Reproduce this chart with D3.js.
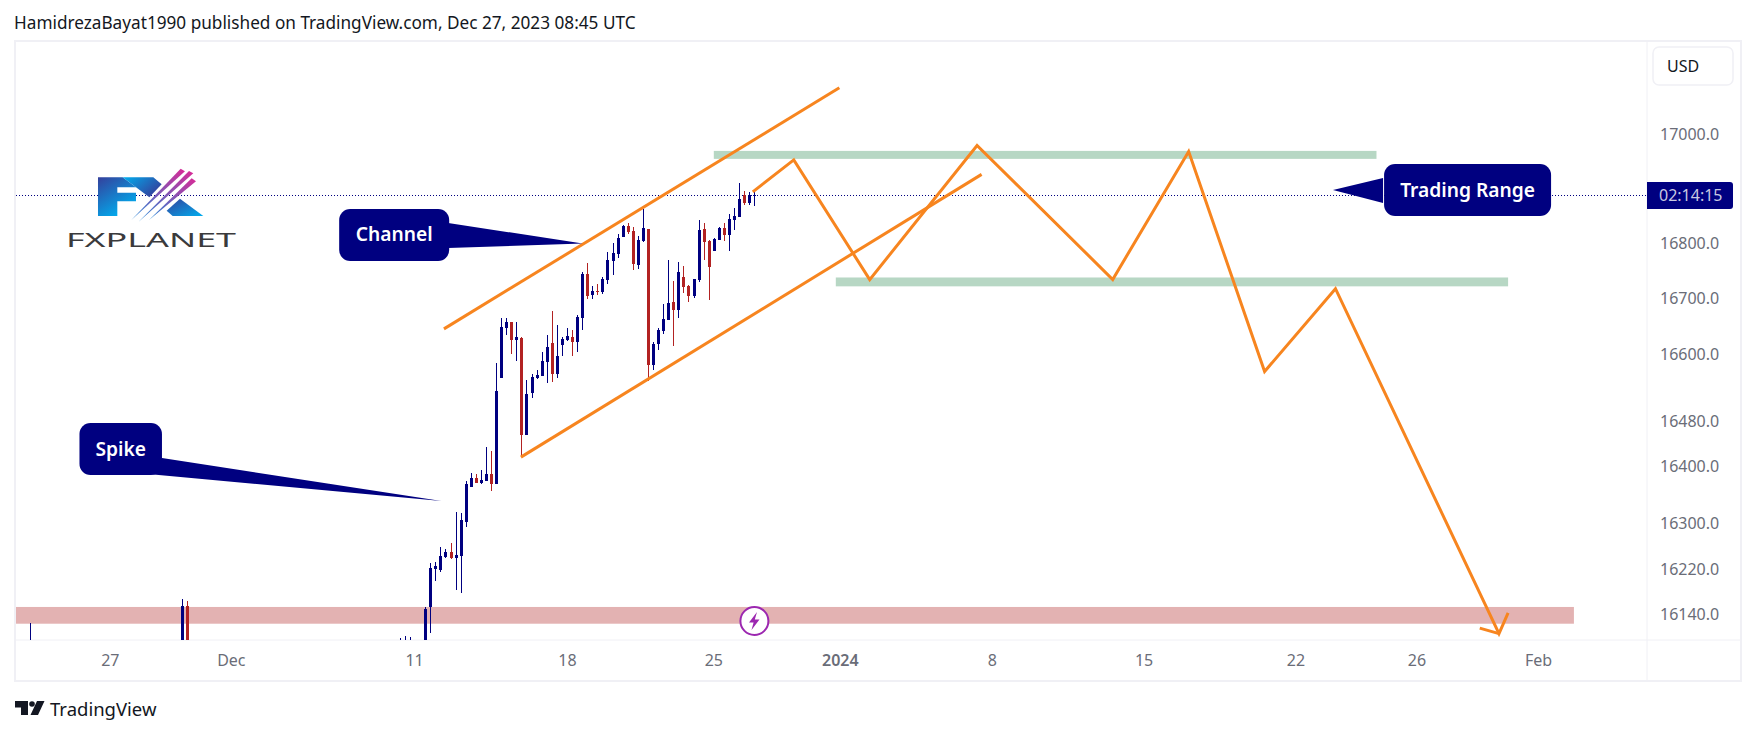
<!DOCTYPE html>
<html>
<head>
<meta charset="utf-8">
<script src="https://cdn.jsdelivr.net/npm/d3@7"></script>
<style>
  body { margin: 0; background: #fff; }
  text { font-family: "Noto Sans", sans-serif; }
  .tick text { fill: #6a6d78; font-size: 16px; }
  .callout { fill: #fff; font-size: 19.2px; font-weight: 600; }
</style>
</head>
<body>
<div id="chart"></div>
<script>
// DATA (x is bar number, 4H bars, 0 = first bar of the spike)
const BAR = [-79,-49,-48,-6,-5,-4,-1,0,1,2,3,4,5,6,7,8,9,10,11,12,13,14,15,16,17,18,19,20,21,22,23,24,25,26,27,28,29,30,31,32,33,34,35,36,37,38,39,40,41,42,43,44,45,46,47,48,49,50,51,52,53,54,55,56,57,58,59,60,61,62,63,64];
const OPEN = [16050,16060,16155,16060,16065,16070,16070,16153.5,16220.5,16218,16241,16250,16239,16243,16302,16364,16380,16371,16375,16387,16369.5,16558,16648,16659,16626,16630,16456,16531,16558,16561.5,16586.5,16621,16565,16617,16626,16631.5,16622.5,16666,16745,16707,16714.5,16713,16734,16768.5,16781,16812,16832,16823,16761,16804.5,16826.5,16581,16619,16642,16662,16695,16680,16740,16723.5,16705,16734,16826.5,16804.5,16786.5,16806,16828,16815,16843,16848,16889,16874,16887];
const HIGH = [16125,16167.5,16164,16099,16103,16101,16153,16230.5,16232,16258.5,16254.5,16265.5,16320,16318,16375,16389,16387,16394,16435,16428,16585,16666,16666,16659,16659,16631,16554,16565,16572,16604.5,16635,16678,16653,16631,16648,16644,16671,16749,16765,16723.5,16727,16740,16785,16801,16817,16834,16837,16830,16814,16863,16826.5,16622,16648,16691,16770,16732.5,16767,16759.5,16725,16736,16843,16837,16806,16810,16830,16837,16854,16865,16910.5,16896,16894,16898];
const LOW = [16040,16040,16050,16050,16055,16055,16050,16108.7,16198,16215,16239,16237.5,16183,16178,16293.5,16364,16371,16369.5,16375,16357,16369.5,16558,16635,16601,16588,16417,16456,16522,16556,16561.5,16549,16551,16558,16597,16624,16597,16605,16644,16700,16700,16707,16709,16727,16743,16774,16812,16817,16752,16754,16803,16553,16572,16608,16637,16662,16615,16666,16711,16695,16702,16731,16770,16698,16786.5,16806,16804.5,16786.5,16825,16848,16870,16870,16868.5];
const CLOSE = [16070,16155,16070,16080,16085,16085,16150,16221.8,16225,16243,16250,16239,16244.5,16306,16369.5,16380,16371,16376.5,16387,16369.5,16535,16650,16659,16626,16631,16456,16529,16560,16563,16588,16613.5,16565,16597,16628,16633,16622.5,16668,16745,16705,16714.5,16713,16736,16770,16783,16810,16832,16821,16763,16806,16828,16581,16619,16644,16664,16693,16680,16749,16722,16705,16736,16825,16803,16758,16808,16828,16815,16845,16850,16881,16874,16889,16889];

const PRICE_TICKS = [17000,16800,16700,16600,16480,16400,16300,16220,16140];
const TIME_TICKS = [-63.3,-39.4,-3.2,27,55.9,80.9,110.9,140.9,170.9,194.8,218.8];
const TIME_LABELS = ["27","Dec","11","18","25","2024","8","15","22","26","Feb"];
const LAST_PRICE = 16888.6;

// drawings: bar number and price of each vertex
const CHANNEL_TOP_BAR = [2.7,80.8];
const CHANNEL_TOP_PRICE = [16646,17085];
const CHANNEL_LOW_BAR = [17.9,108.9];
const CHANNEL_LOW_PRICE = [16417,16926];
const PATH_BAR = [63.7,71.8,86.8,108,134.8,149.8,164.8,178.8,211.1,212.9];
const PATH_PRICE = [16894,16952.5,16734.7,16979,16735,16968,16569.4,16718.4,16107,16143];
const BARB_BAR = [207.3,211.1];
const BARB_PRICE = [16116.7,16107];

const ZONE_NAME = ["rangeTop","rangeLow","support"];
const ZONE_BAR = [[56,186.9],[80.1,212.9],[-90,225.9]];
const ZONE_PRICE = [[16969,16954.4],[16738.6,16722.6],[16153.5,16124.3]];
const ZONE_COLOR = ["#b7d7c4","#b7d7c4","#e3b2b2"];

const CALLOUT_TEXT = ["Channel","Spike","Trading Range"];
const CALLOUT_BAR = [-18,-69.3,188.4];
const CALLOUT_PRICE = [16863,16477.5,16945];
const CALLOUT_W = [110,82.5,167];
const CALLOUT_TIP_BAR = [30.1,2.2,178.3];
const CALLOUT_TIP_PRICE = [16800,16339.4,16897.7];

// GLOBAL CONSTANTS
const WIDTH = 1755, HEIGHT = 735;
const PLOT = {left: 16, right: 1647, top: 42, bottom: 640};
const NAVY = "#000080", RED = "#b22222", ORANGE = "#f7851f", BORDER = "#f0f0f5";

const X_SCALE = d3.scaleLinear().domain([0, 64]).range([430.3, 754.3]);
const Y_SCALE = d3.scaleLog().domain([17000, 16140]).range([134, 614.7]);

const FRAME = d3.select("#chart").append("svg")
    .attr("width", WIDTH)
    .attr("height", HEIGHT)
    .style("display", "block");

const DEFS = FRAME.append("defs");
DEFS.append("clipPath").attr("id", "plot-clip").append("rect")
    .attr("x", PLOT.left).attr("y", PLOT.top)
    .attr("width", PLOT.right - PLOT.left).attr("height", PLOT.bottom - PLOT.top);

function addGradient(id, x1, y1, x2, y2, from, to) {
    const g = DEFS.append("linearGradient").attr("id", id)
        .attr("x1", x1).attr("y1", y1).attr("x2", x2).attr("y2", y2);
    g.append("stop").attr("offset", 0).attr("stop-color", from);
    g.append("stop").attr("offset", 1).attr("stop-color", to);
}
addGradient("logo-f", 0, 0, 0.6, 1, "#34409c", "#00aeef");
addGradient("logo-x", 0, 0, 1, 0.6, "#00aeef", "#34409c");
addGradient("logo-r", 0, 0, 1, 1, "#34409c", "#00aeef");
addGradient("logo-s", 0, 1, 1, 0, "#1e88d8", "#d92a96");

// frame lines
FRAME.append("rect")
    .attr("x", 15).attr("y", 41).attr("width", 1726).attr("height", 640)
    .attr("fill", "none").attr("stroke", BORDER).attr("stroke-width", 2);
FRAME.append("line")
    .attr("x1", PLOT.right).attr("x2", PLOT.right).attr("y1", 41).attr("y2", 681)
    .attr("stroke", BORDER).attr("stroke-width", 1);
FRAME.append("line")
    .attr("x1", 15).attr("x2", 1741).attr("y1", PLOT.bottom).attr("y2", PLOT.bottom)
    .attr("stroke", BORDER).attr("stroke-width", 1);

const PLOT_G = FRAME.append("g").attr("clip-path", "url(#plot-clip)");

// zones
PLOT_G.selectAll(".zone")
    .data(ZONE_NAME)
    .enter()
    .append("rect")
      .attr("class", "zone")
      .attr("x", (d, i) => X_SCALE(ZONE_BAR[i][0]))
      .attr("width", (d, i) => X_SCALE(ZONE_BAR[i][1]) - X_SCALE(ZONE_BAR[i][0]))
      .attr("y", (d, i) => Y_SCALE(ZONE_PRICE[i][0]))
      .attr("height", (d, i) => Y_SCALE(ZONE_PRICE[i][1]) - Y_SCALE(ZONE_PRICE[i][0]))
      .attr("fill", (d, i) => ZONE_COLOR[i]);

// last price line
const LAST_Y = Math.round(Y_SCALE(LAST_PRICE)) + 0.5;
PLOT_G.append("line")
    .attr("x1", PLOT.left).attr("x2", PLOT.right)
    .attr("y1", LAST_Y).attr("y2", LAST_Y)
    .attr("stroke", NAVY).attr("stroke-width", 1).attr("stroke-dasharray", "1 2")
    .attr("shape-rendering", "crispEdges");

// candles
const CANDLES = PLOT_G.selectAll(".candle")
    .data(BAR)
    .enter()
    .append("g")
      .attr("class", "candle")
      .attr("shape-rendering", "crispEdges")
      .attr("fill", (d, i) => CLOSE[i] >= OPEN[i] ? NAVY : RED);
CANDLES.append("rect")
    .attr("x", (d) => Math.round(X_SCALE(d)))
    .attr("width", 1)
    .attr("y", (d, i) => Y_SCALE(HIGH[i]))
    .attr("height", (d, i) => Y_SCALE(LOW[i]) - Y_SCALE(HIGH[i]));
CANDLES.append("rect")
    .attr("x", (d) => Math.round(X_SCALE(d)) - 1)
    .attr("width", 3)
    .attr("y", (d, i) => Y_SCALE(Math.max(OPEN[i], CLOSE[i])))
    .attr("height", (d, i) => Math.max(1, Y_SCALE(Math.min(OPEN[i], CLOSE[i])) - Y_SCALE(Math.max(OPEN[i], CLOSE[i]))));

// orange drawings
const LINE = d3.line().x((d) => X_SCALE(d[0])).y((d) => Y_SCALE(d[1]));
[[CHANNEL_TOP_BAR, CHANNEL_TOP_PRICE],
 [CHANNEL_LOW_BAR, CHANNEL_LOW_PRICE],
 [PATH_BAR, PATH_PRICE],
 [BARB_BAR, BARB_PRICE]].forEach((pair) => {
    FRAME.append("path")
        .attr("d", LINE(d3.zip(pair[0], pair[1])))
        .attr("fill", "none")
        .attr("stroke", ORANGE)
        .attr("stroke-width", 3)
        .attr("stroke-linejoin", "miter");
});

// callouts
CALLOUT_TEXT.forEach((label, i) => {
    const x = X_SCALE(CALLOUT_BAR[i]), y = Y_SCALE(CALLOUT_PRICE[i]);
    const w = CALLOUT_W[i], h = 52;
    const tipX = X_SCALE(CALLOUT_TIP_BAR[i]), tipY = Y_SCALE(CALLOUT_TIP_PRICE[i]);
    // the pointer leaves from the side of the box facing the tip
    const side = tipX > x ? x + w : x;
    const inset = tipX > x ? -14 : 0;
    FRAME.append("polygon")
        .attr("points", label === "Spike"
            ? [[side, y + 35], [tipX, tipY], [side + inset, y + h - 1]].join(" ")
            : [[side - 1, y + 14], [tipX, tipY], [side - 1, y + 39]].join(" "))
        .attr("fill", NAVY);
    FRAME.append("rect")
        .attr("x", x).attr("y", y).attr("width", w).attr("height", h)
        .attr("rx", 11).attr("fill", NAVY);
    FRAME.append("text")
        .attr("class", "callout")
        .attr("x", x + w / 2).attr("y", y + h / 2 + 6.5)
        .attr("text-anchor", "middle")
        .text(label);
});

// axes
const Y_AXIS = FRAME.append("g")
    .attr("transform", "translate(1660,0)")
    .call(d3.axisRight(Y_SCALE).tickValues(PRICE_TICKS).tickFormat(d3.format(".1f")).tickSize(0).tickPadding(0));
Y_AXIS.select(".domain").remove();

const X_AXIS = FRAME.append("g")
    .attr("transform", "translate(0," + PLOT.bottom + ")")
    .call(d3.axisBottom(X_SCALE).tickValues(TIME_TICKS).tickFormat((d, i) => TIME_LABELS[i]).tickSize(0).tickPadding(15));
X_AXIS.select(".domain").remove();
X_AXIS.selectAll("text").attr("font-weight", (d, i) => TIME_LABELS[i] === "2024" ? 600 : 400);

// USD box
FRAME.append("rect")
    .attr("x", 1653).attr("y", 47).attr("width", 80).attr("height", 38)
    .attr("rx", 6).attr("fill", "#fff").attr("stroke", BORDER).attr("stroke-width", 1.5);
FRAME.append("text")
    .attr("x", 1667).attr("y", 71.5)
    .attr("font-size", 16).attr("fill", "#131722")
    .text("USD");

// countdown label
FRAME.append("path")
    .attr("d", "M1647,182 H1730 a3,3 0 0 1 3,3 V206 a3,3 0 0 1 -3,3 H1647 Z")
    .attr("fill", NAVY);
FRAME.append("text")
    .attr("x", 1659).attr("y", 201)
    .attr("font-size", 16).attr("fill", "#c8c8e2")
    .text("02:14:15");

// flash icon
FRAME.append("circle")
    .attr("cx", 754.4).attr("cy", 621).attr("r", 14)
    .attr("fill", "#fff").attr("stroke", "#9c27b0").attr("stroke-width", 2);
FRAME.append("path")
    .attr("d", "M757,612 L749,622.5 H753.6 L751.5,630 L759.5,619.5 H754.8 Z")
    .attr("fill", "#9c27b0");

// FX logo, traced in 3x crop units
const LOGO = FRAME.append("g").attr("transform", "translate(10,140) scale(0.3333)");
LOGO.append("path")
    .attr("d", "M264,112 L338,112 L378,142 L322,142 L322,158 L378,158 L378,184 L322,184 L322,228 L264,228 Z")
    .attr("fill", "url(#logo-f)");
LOGO.append("path")
    .attr("d", "M338,112 L430,112 L455,133 L418,172 Z")
    .attr("fill", "url(#logo-x)");
LOGO.append("path")
    .attr("d", "M470,212 L510,176 L580,228 L488,228 Z")
    .attr("fill", "url(#logo-r)");
["M364,240 L512,86 L525,94 Z", "M386,245 L537,93 L550,100 Z", "M417,240 L545,115 L558,124 Z"].forEach((d) => {
    LOGO.append("path").attr("d", d).attr("fill", "url(#logo-s)");
});
FRAME.append("text")
    .attr("x", 66).attr("y", 247)
    .attr("font-size", 19).attr("fill", "#3a3a3c")
    .attr("textLength", 170).attr("lengthAdjust", "spacingAndGlyphs")
    .text("FXPLANET");

// title and TradingView mark
FRAME.append("text")
    .attr("x", 14).attr("y", 29)
    .attr("font-size", 17.2).attr("fill", "#131722")
    .text("HamidrezaBayat1990 published on TradingView.com, Dec 27, 2023 08:45 UTC");
FRAME.append("path")
    .attr("d", "M15,701 H28 V715 H21 V707.5 H15 Z M37,701 H44.5 L38,715 H30.5 Z")
    .attr("fill", "#131722");
FRAME.append("circle")
    .attr("cx", 32).attr("cy", 704).attr("r", 2.8).attr("fill", "#131722");
FRAME.append("text")
    .attr("x", 50).attr("y", 716)
    .attr("font-size", 18.5).attr("fill", "#131722")
    .text("TradingView");
</script>
</body>
</html>
